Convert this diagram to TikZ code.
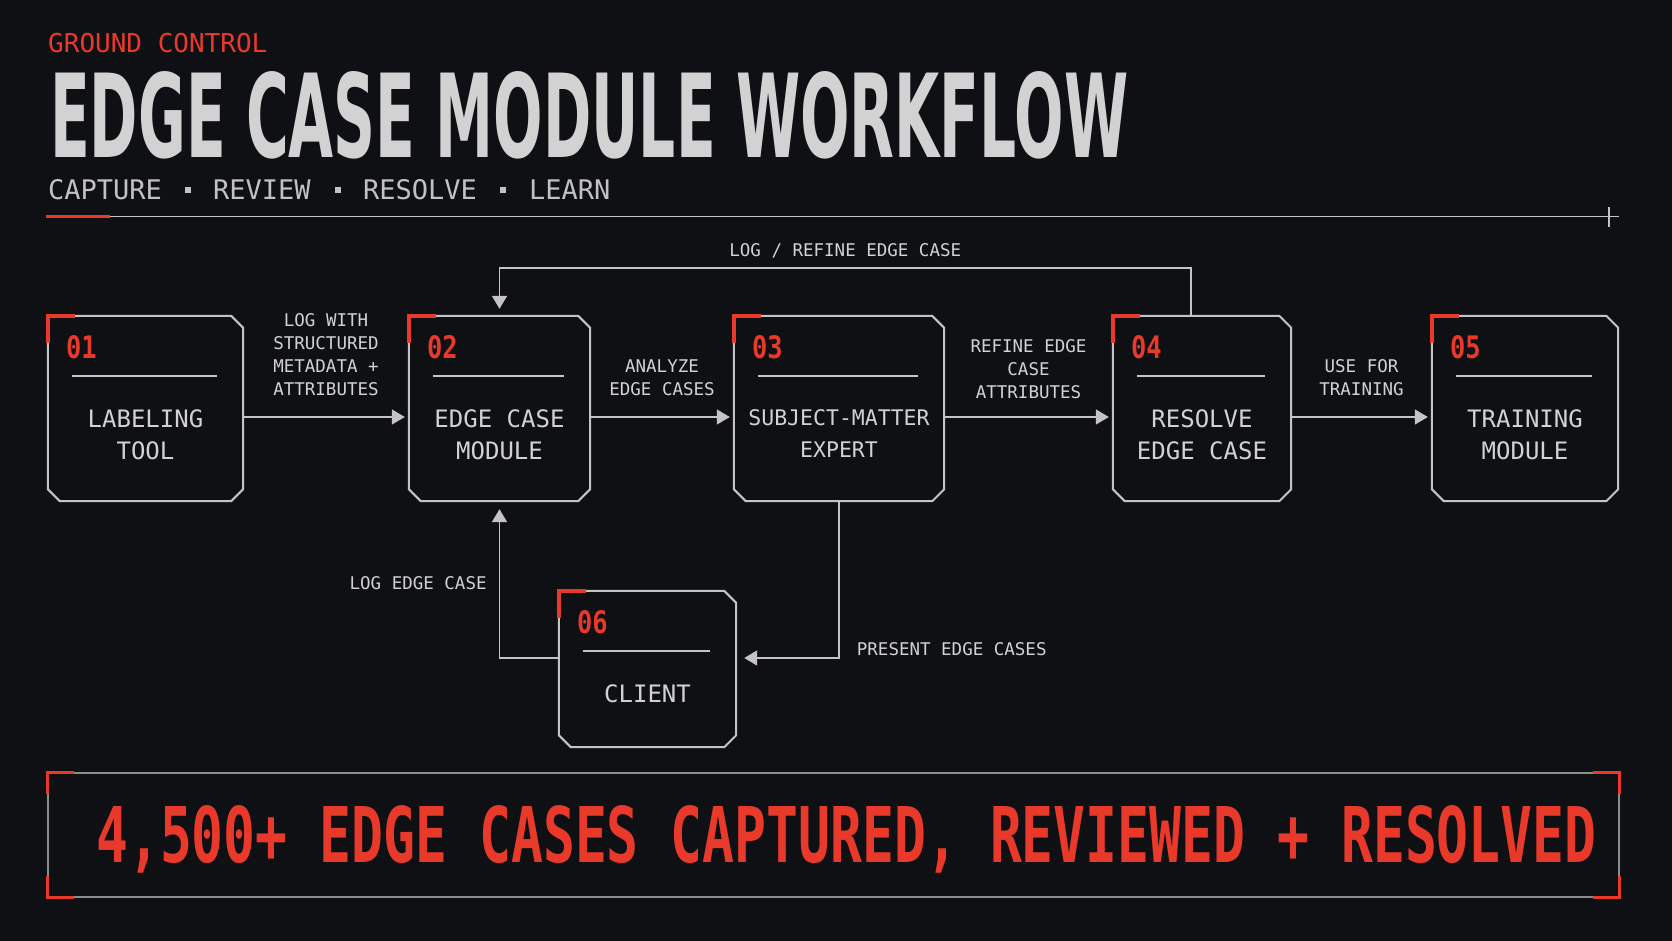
\documentclass[tikz,border=0pt]{standalone}
\usepackage{fontspec}
\usepackage{graphicx}
\setmainfont{DejaVu Sans}
\setmonofont{DejaVu Sans Mono}
\newfontfamily\numfont{DejaVu Sans Mono}[FakeStretch=0.82]
\usetikzlibrary{arrows.meta,calc,positioning}

\definecolor{panel}{HTML}{0E1014}
\definecolor{wire}{HTML}{C4C4C4}
\definecolor{ink}{HTML}{D2D2D2}
\definecolor{dimink}{HTML}{C2C2C2}
\definecolor{signal}{HTML}{E8392B}
\definecolor{frame}{HTML}{8C8C8C}

\tikzset{
  stagebox/.style={rectangle, draw=none, inner sep=0},
  outline/.style={draw=wire, line width=2pt, line join=miter},
  cornermark/.style={draw=signal, line width=3.5pt},
  divider/.style={draw=wire, line width=1.5pt},
  stagenum/.style={font=\numfont\bfseries\fontsize{31}{31}\selectfont, text=signal, anchor=west, inner sep=0},
  stagelabel/.style={text=ink, align=center, anchor=north, inner sep=0},
  motto/.style={font=\ttfamily\fontsize{27}{27}\selectfont, text=dimink, anchor=base west, inner sep=0},
  flow/.style={draw=wire, line width=1.8pt, -{Triangle[length=13pt,width=15pt]}},
  flowlabel/.style={font=\ttfamily\fontsize{17.5}{23}\selectfont, text=ink, align=center, inner sep=0}
}

\begin{document}
\begin{tikzpicture}[x=1pt, y=-1pt]
  \useasboundingbox (0,0) rectangle (1672,941);
  \fill[panel] (0,0) rectangle (1672,941);

  % header
  \node[anchor=base west, inner sep=0, text=signal, font=\ttfamily\fontsize{26}{26}\selectfont] (kicker) at (48,53) {GROUND CONTROL};
  \node[anchor=base west, inner sep=0, text=ink] (title) at (50,158) {\resizebox{1078pt}{86pt}{\bfseries EDGE CASE MODULE WORKFLOW}};
  \node[motto] (capture) at (48,200) {CAPTURE};
  \node[motto] (review) at (213,200) {REVIEW};
  \node[motto] (resolve) at (363,200) {RESOLVE};
  \node[motto] (learn) at (529,200) {LEARN};
  \foreach \sx in {188,338,503}
    \fill[dimink] (\sx-3,187) rectangle ++(6,6);
  \draw[line width=1.5pt, draw=wire] (110,216.5) -- (1619,216.5);
  \draw[line width=3.5pt, draw=signal] (46,216.5) -- (110,216.5);
  \draw[line width=1.5pt, draw=wire] (1609,207) -- (1609,227);

  % stages
  \foreach \nm/\cx/\cy/\w/\h/\idx/\fs/\txt in {
      lab/145.5/408.5/195/185/01/24/{LABELING\\TOOL},
      ecm/499.5/408.5/181/185/02/24/{EDGE CASE\\MODULE},
      sme/839/408.5/210/185/03/21.5/{SUBJECT-MATTER\\EXPERT},
      res/1202/408.5/178/185/04/24/{RESOLVE\\EDGE CASE},
      trn/1525/408.5/186/185/05/24/{TRAINING\\MODULE},
      cli/647.5/669/177/156/06/24/{CLIENT}} {
    \node[stagebox, minimum width=\w pt, minimum height=\h pt] (\nm) at (\cx,\cy) {};
    \draw[outline] (\nm.north west) -- ($(\nm.north east)+(-12,0)$) -- ($(\nm.north east)+(0,12)$)
      -- ($(\nm.south east)+(0,-12)$) -- ($(\nm.south east)+(-12,0)$)
      -- ($(\nm.south west)+(12,0)$) -- ($(\nm.south west)+(0,-12)$) -- cycle;
    \draw[cornermark] ($(\nm.north west)+(0,27)$) -- (\nm.north west) -- ($(\nm.north west)+(27,0)$);
    \node[stagenum] at ($(\nm.north west)+(18,31)$) {\idx};
    \draw[divider] ($(\nm.north west)+(24,60)$) -- ($(\nm.north east)+(-26,60)$);
    \node[stagelabel, font=\ttfamily\fontsize{\fs}{32}\selectfont] at ($(\nm.north)+(0,94)$) {\txt};
  }

  % flows
  \draw[flow, shorten >=4pt] ($(lab.east)+(0,8.5)$) -- node[flowlabel, above=20pt] {LOG WITH\\STRUCTURED\\METADATA +\\ATTRIBUTES} ($(ecm.west)+(0,8.5)$);
  \draw[flow, shorten >=4pt] ($(ecm.east)+(0,8.5)$) -- node[flowlabel, above=20pt] {ANALYZE\\EDGE CASES} ($(sme.west)+(0,8.5)$);
  \draw[flow, shorten >=4pt] ($(sme.east)+(0,8.5)$) -- node[flowlabel, above=17pt] {REFINE EDGE\\CASE\\ATTRIBUTES} ($(res.west)+(0,8.5)$);
  \draw[flow, shorten >=4pt] ($(res.east)+(0,8.5)$) -- node[flowlabel, above=20pt] {USE FOR\\TRAINING} ($(trn.west)+(0,8.5)$);
  \draw[flow, shorten >=7pt] ($(res.north)+(-11,0)$) -- ++(0,-48) -| node[flowlabel, pos=0.25, above=9pt] {LOG / REFINE EDGE CASE} (ecm.north);
  \draw[flow, shorten >=8pt] (sme.south) |- node[flowlabel, pos=0.5, anchor=west, xshift=17pt, yshift=9pt] {PRESENT EDGE CASES} ($(cli.east)+(0,-11)$);
  \draw[flow, shorten >=8pt] ($(cli.west)+(0,-11)$) -| node[flowlabel, pos=0.74, anchor=east, xshift=-12pt] {LOG EDGE CASE} (ecm.south);

  % tally banner
  \node[inner sep=0, minimum width=1571pt, minimum height=124pt, draw=frame, line width=1.2pt] (tally) at (833.5,835) {};
  \draw[cornermark, line width=3pt] ($(tally.north west)+(0,22)$) -- (tally.north west) -- ($(tally.north west)+(27,0)$);
  \draw[cornermark, line width=3pt] ($(tally.north east)+(0,22)$) -- (tally.north east) -- ($(tally.north east)+(-27,0)$);
  \draw[cornermark, line width=3pt] ($(tally.south west)+(0,-22)$) -- (tally.south west) -- ($(tally.south west)+(27,0)$);
  \draw[cornermark, line width=3pt] ($(tally.south east)+(0,-22)$) -- (tally.south east) -- ($(tally.south east)+(-27,0)$);
  \node[anchor=base west, inner sep=0, text=signal] (count) at (96,862) {\resizebox{1500pt}{57pt}{\ttfamily\bfseries 4,500+ EDGE CASES CAPTURED, REVIEWED + RESOLVED}};
\end{tikzpicture}
\end{document}
